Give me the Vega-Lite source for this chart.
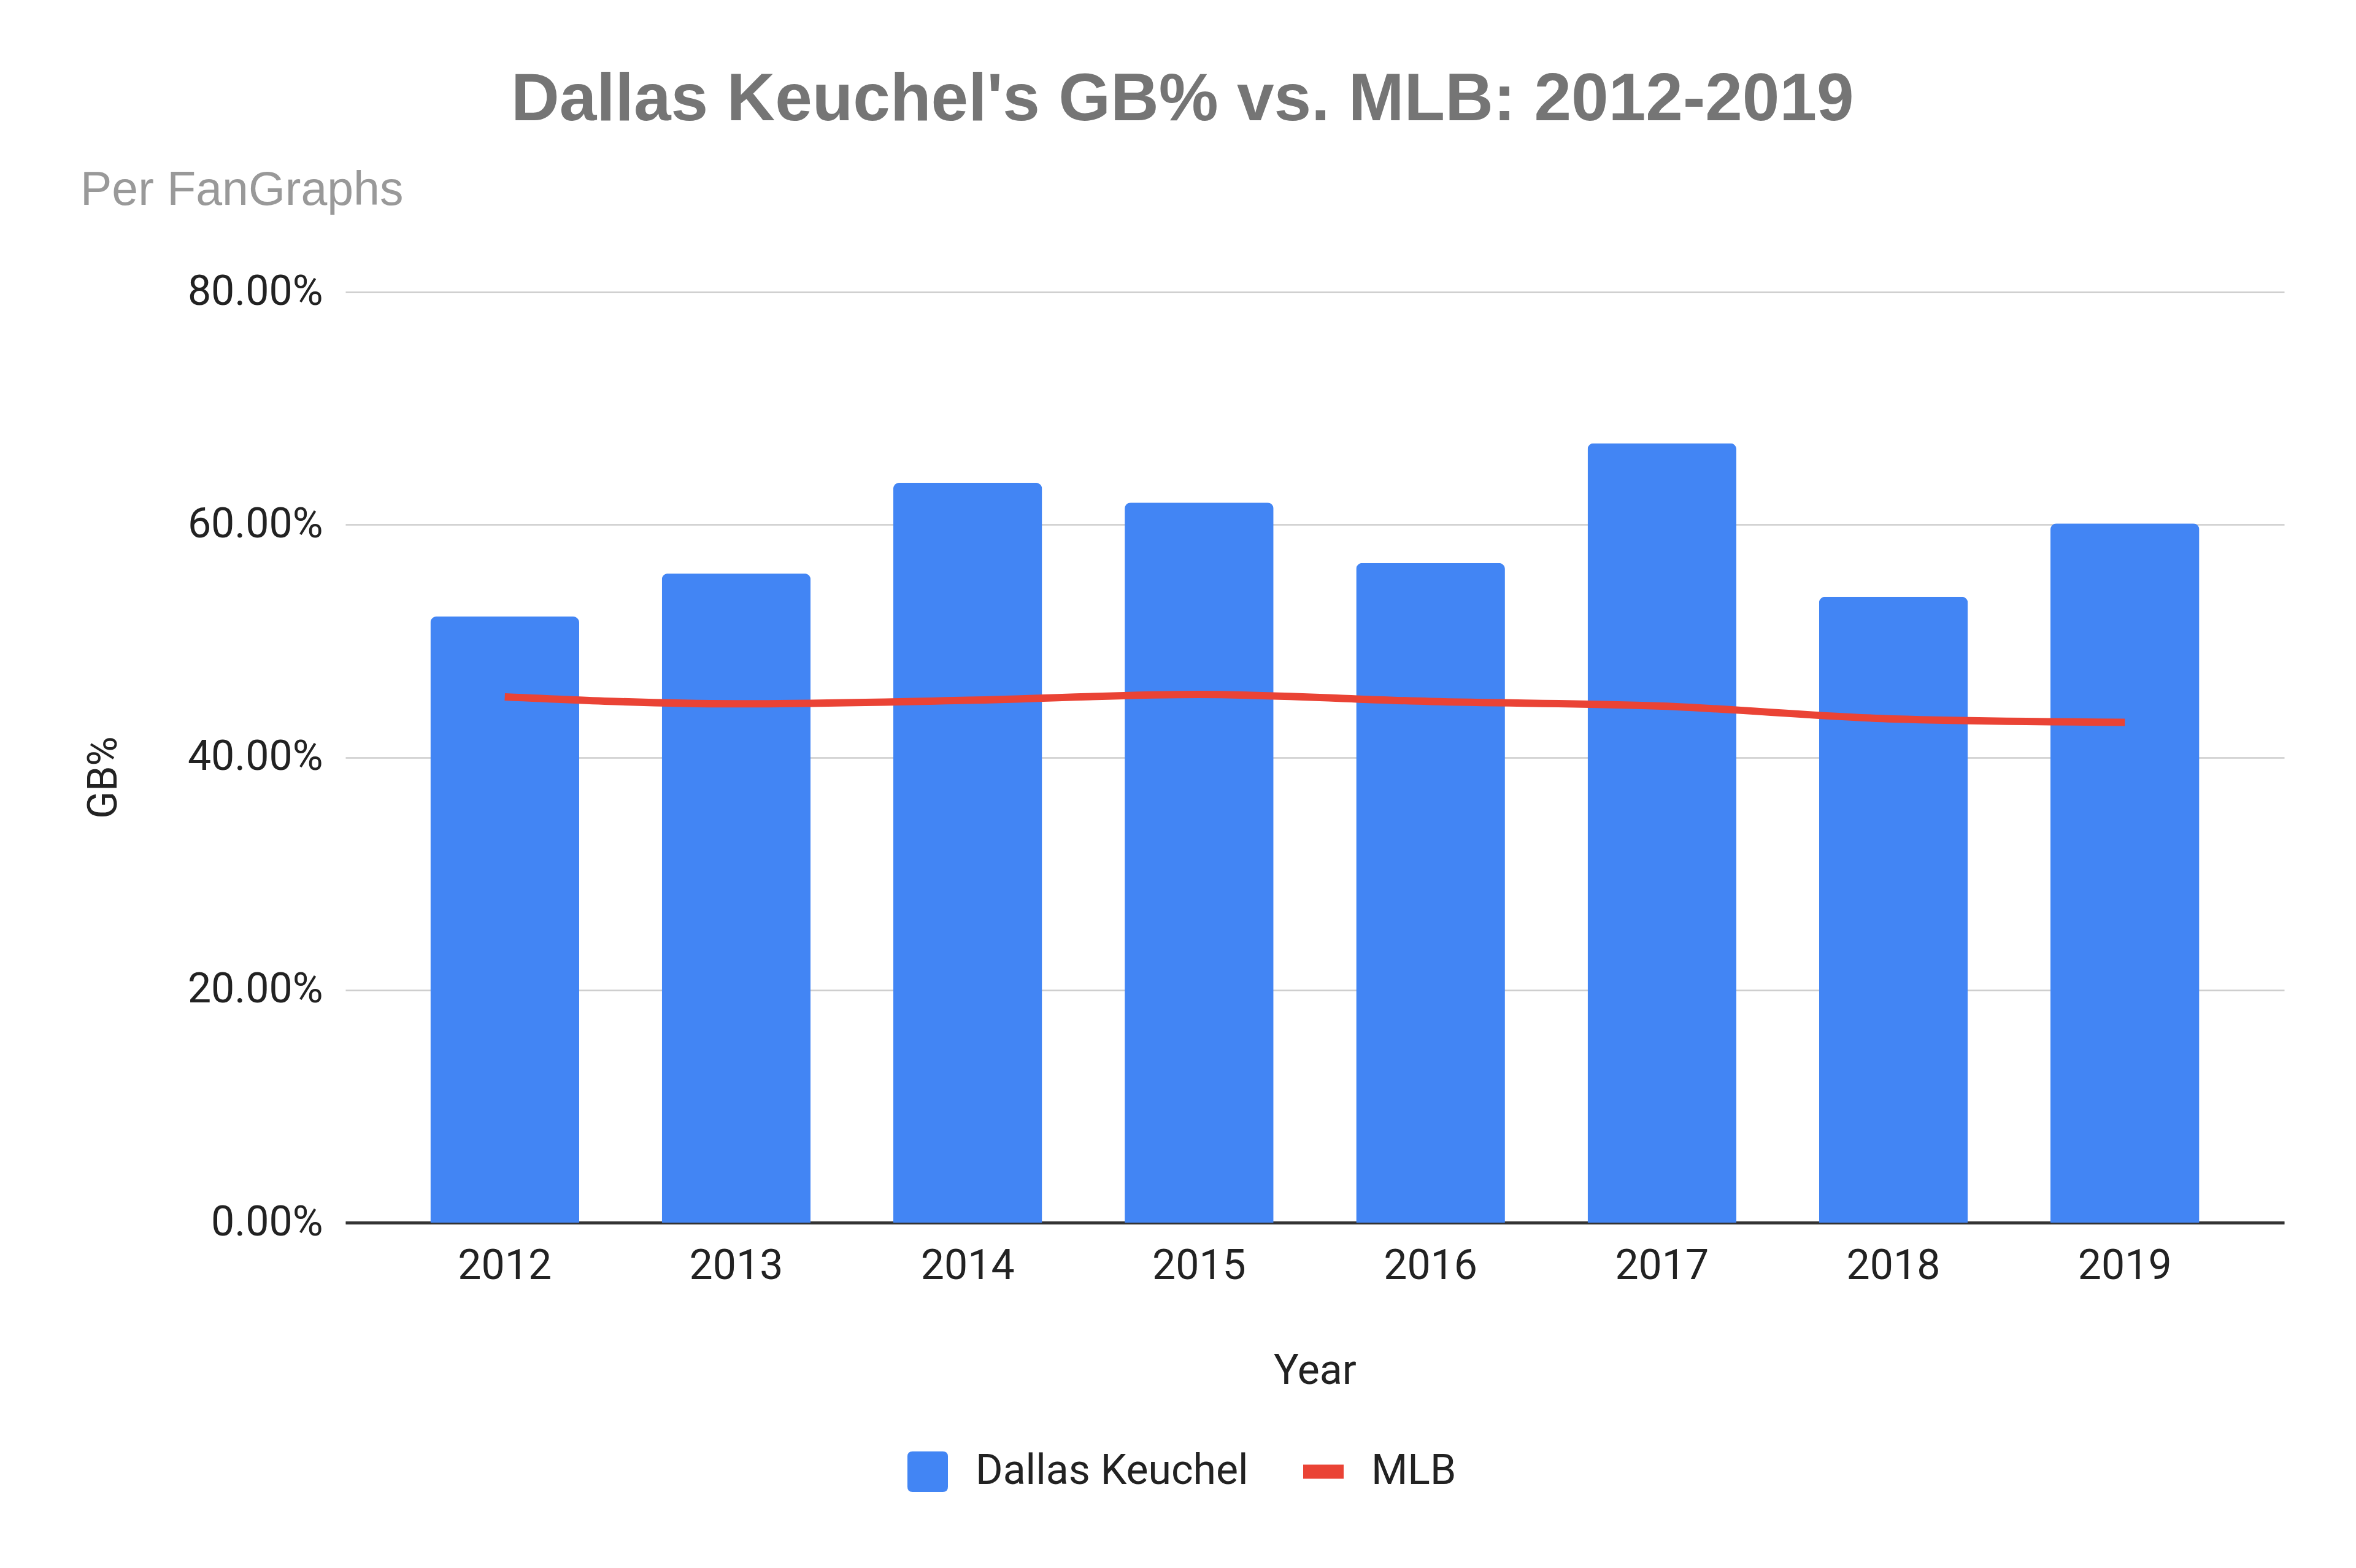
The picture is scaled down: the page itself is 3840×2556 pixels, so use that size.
{
  "$schema": "https://vega.github.io/schema/vega-lite/v6.json",
  "width": 3160,
  "height": 1517,
  "autosize": {"type": "none"},
  "padding": {"left": 563, "top": 476, "right": 117, "bottom": 563},
  "background": "white",
  "title": {
    "text": "Dallas Keuchel's GB% vs. MLB: 2012-2019",
    "subtitle": "Per FanGraphs",
    "anchor": "start",
    "frame": "group",
    "align": "left",
    "dx": -432,
    "offset": 92,
    "font": "Liberation Sans",
    "fontSize": 109,
    "fontWeight": "bold",
    "color": "#757575",
    "subtitleFont": "Liberation Sans",
    "subtitleFontSize": 77,
    "subtitleColor": "#999999",
    "subtitlePadding": 54,
    "encoding": {"dx": {"value": 270}}
  },
  "data": {
    "values": [
      {"Year": "2012", "Series": "Dallas Keuchel", "GB": 0.521},
      {"Year": "2013", "Series": "Dallas Keuchel", "GB": 0.558},
      {"Year": "2014", "Series": "Dallas Keuchel", "GB": 0.636},
      {"Year": "2015", "Series": "Dallas Keuchel", "GB": 0.619},
      {"Year": "2016", "Series": "Dallas Keuchel", "GB": 0.567},
      {"Year": "2017", "Series": "Dallas Keuchel", "GB": 0.670},
      {"Year": "2018", "Series": "Dallas Keuchel", "GB": 0.538},
      {"Year": "2019", "Series": "Dallas Keuchel", "GB": 0.601},
      {"Year": "2012", "Series": "MLB", "GB": 0.452},
      {"Year": "2013", "Series": "MLB", "GB": 0.446},
      {"Year": "2014", "Series": "MLB", "GB": 0.449},
      {"Year": "2015", "Series": "MLB", "GB": 0.454},
      {"Year": "2016", "Series": "MLB", "GB": 0.448},
      {"Year": "2017", "Series": "MLB", "GB": 0.444},
      {"Year": "2018", "Series": "MLB", "GB": 0.433},
      {"Year": "2019", "Series": "MLB", "GB": 0.430}
    ]
  },
  "encoding": {
    "x": {
      "field": "Year",
      "type": "ordinal",
      "scale": {"paddingInner": 0.357, "paddingOuter": 0.367},
      "axis": {
        "title": "Year",
        "labelAngle": 0,
        "ticks": false,
        "grid": false,
        "domainColor": "#333333",
        "domainWidth": 5,
        "labelPadding": 37,
        "labelFont": "Roboto",
        "labelFontSize": 68,
        "labelColor": "#222222",
        "labelLimit": 0,
        "titleFont": "Roboto",
        "titleFontSize": 68,
        "titleFontWeight": "normal",
        "titleColor": "#222222",
        "titlePadding": 103
      }
    },
    "y": {
      "field": "GB",
      "type": "quantitative",
      "scale": {"domain": [0, 0.8], "nice": false},
      "axis": {
        "title": "GB%",
        "format": ".2%",
        "values": [0, 0.2, 0.4, 0.6, 0.8],
        "grid": true,
        "gridColor": "#cccccc",
        "gridWidth": 2.5,
        "domain": false,
        "ticks": false,
        "labelPadding": 37,
        "labelFont": "Roboto",
        "labelFontSize": 68,
        "labelColor": "#222222",
        "labelLimit": 0,
        "titleFont": "Roboto",
        "titleFontSize": 66,
        "titleFontWeight": "normal",
        "titleColor": "#222222",
        "titlePadding": 160,
        "titleY": 791
      }
    },
    "color": {
      "field": "Series",
      "type": "nominal",
      "scale": {"domain": ["Dallas Keuchel", "MLB"], "range": ["#4285F4", "#EA4335"]},
      "legend": {
        "title": null,
        "orient": "none",
        "legendX": 915,
        "legendY": 1889,
        "direction": "horizontal",
        "symbolSize": 4356,
        "labelFont": "Roboto",
        "labelFontSize": 68,
        "labelColor": "#222222",
        "labelLimit": 0,
        "labelOffset": 44,
        "columnPadding": 88,
        "encode": {
          "symbols": {
            "update": {
              "shape": {"signal": "datum.value === 'MLB' ? 'M-1,-0.35H1V0.35H-1Z' : 'M-1,-0.75Q-1,-1,-0.75,-1H0.75Q1,-1,1,-0.75V0.75Q1,1,0.75,1H-0.75Q-1,1,-1,0.75Z'"},
              "fill": {"signal": "datum.value === 'MLB' ? '#EA4335' : '#4285F4'"},
              "strokeWidth": {"value": 0},
              "opacity": {"value": 1}
            }
          }
        }
      }
    }
  },
  "layer": [
    {
      "transform": [{"filter": "datum.Series === 'Dallas Keuchel'"}],
      "mark": {"type": "bar", "cornerRadiusTopLeft": 10, "cornerRadiusTopRight": 10}
    },
    {
      "transform": [{"filter": "datum.Series === 'MLB'"}],
      "mark": {"type": "line", "interpolate": "monotone", "strokeWidth": 12}
    }
  ],
  "config": {
    "view": {"stroke": null}
  }
}
